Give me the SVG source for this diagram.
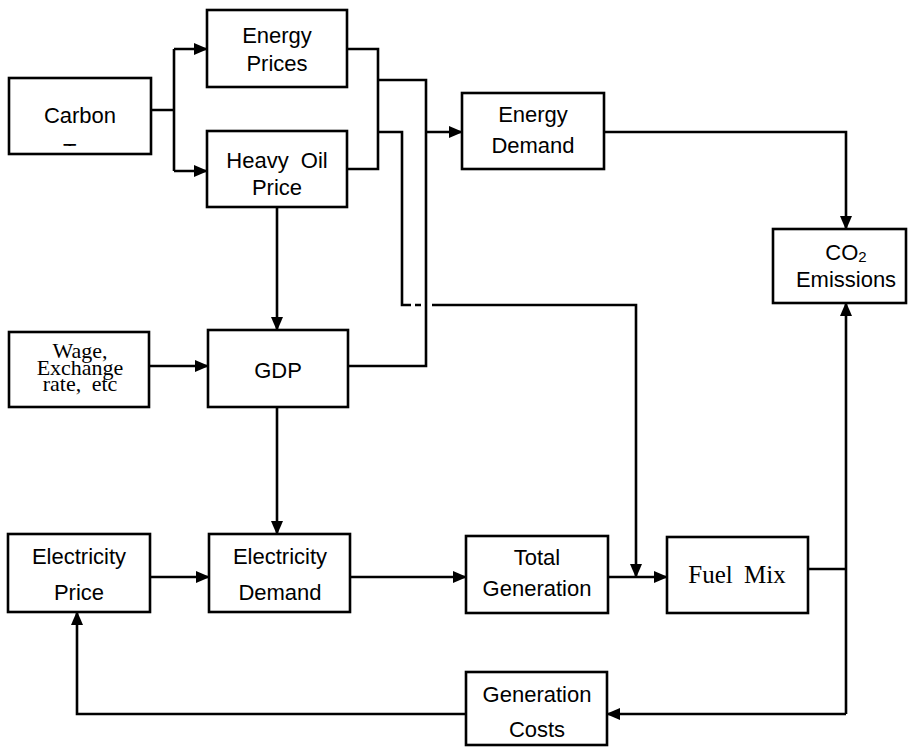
<svg xmlns="http://www.w3.org/2000/svg" width="908" height="749" viewBox="0 0 908 749">
<style>
.box{fill:#fff;stroke:#000;stroke-width:2.6}
.ln{fill:none;stroke:#000;stroke-width:2.6}
.t{font-family:"Liberation Sans",Arial,sans-serif;font-size:22px;fill:#000;text-anchor:middle}
.s{font-family:"Liberation Serif","Times New Roman",serif;fill:#000;text-anchor:middle}
</style>
<defs>
<marker id="ah" markerWidth="14" markerHeight="12" refX="13" refY="6" orient="auto" markerUnits="userSpaceOnUse">
<path d="M0,0 L14,6 L0,12 Z" fill="#000"/>
</marker>
<clipPath id="taxclip"><rect x="0" y="0" width="200" height="146"/></clipPath>
</defs>
<rect width="908" height="749" fill="#fff"/>
<g id="connectors">
<path class="ln" d="M151,110 H174 M174,49 V171"/>
<path class="ln" d="M174,49 H207" marker-end="url(#ah)"/>
<path class="ln" d="M174,171 H207" marker-end="url(#ah)"/>
<path class="ln" d="M347,49 H378 V169 H347"/>
<path class="ln" d="M378,80 H426 V366 H348"/>
<path class="ln" d="M426,132 H462" marker-end="url(#ah)"/>
<path class="ln" d="M378,132 H402 V305 H411 M415,305 H421"/>
<path class="ln" d="M432,305 H636 V577" marker-end="url(#ah)"/>
<path class="ln" d="M277,207 V330" marker-end="url(#ah)"/>
<path class="ln" d="M149,366 H208" marker-end="url(#ah)"/>
<path class="ln" d="M277,407 V534" marker-end="url(#ah)"/>
<path class="ln" d="M150,577 H209" marker-end="url(#ah)"/>
<path class="ln" d="M350,577 H466" marker-end="url(#ah)"/>
<path class="ln" d="M608,577 H667" marker-end="url(#ah)"/>
<path class="ln" d="M604,132 H846 V229" marker-end="url(#ah)"/>
<path class="ln" d="M808,569 H846"/>
<path class="ln" d="M846,714 V303" marker-end="url(#ah)"/>
<path class="ln" d="M846,714 H607" marker-end="url(#ah)"/>
<path class="ln" d="M466,714 H77 V612" marker-end="url(#ah)"/>
</g>
<g id="carbon-tax">
<rect class="box" x="9" y="78" width="142" height="76"/>
<text class="t" x="80" y="123">Carbon</text>
<text class="t" x="80" y="159" clip-path="url(#taxclip)">Tax</text>
</g>
<g id="energy-prices">
<rect class="box" x="207" y="10" width="140" height="77"/>
<text class="t" x="277" y="43">Energy</text>
<text class="t" x="277" y="71">Prices</text>
</g>
<g id="heavy-oil-price">
<rect class="box" x="207" y="131" width="140" height="76"/>
<text class="t" x="277" y="168" word-spacing="6">Heavy Oil</text>
<text class="t" x="277" y="195">Price</text>
</g>
<g id="energy-demand">
<rect class="box" x="462" y="93" width="142" height="76"/>
<text class="t" x="533" y="122">Energy</text>
<text class="t" x="533" y="153">Demand</text>
</g>
<g id="co2-emissions">
<rect class="box" x="773" y="229" width="133" height="74"/>
<text class="t" x="846" y="260">CO<tspan font-size="15" dy="2">2</tspan></text>
<text class="t" x="846" y="287">Emissions</text>
</g>
<g id="wage">
<rect class="box" x="9" y="332" width="140" height="75"/>
<text class="s" x="80" y="358" font-size="22">Wage,</text>
<text class="s" x="80" y="375" font-size="22">Exchange</text>
<text class="s" x="80" y="391" font-size="22" word-spacing="5">rate, etc</text>
</g>
<g id="gdp">
<rect class="box" x="208" y="330" width="140" height="77"/>
<text class="t" x="278" y="378">GDP</text>
</g>
<g id="electricity-price">
<rect class="box" x="8" y="534" width="142" height="78"/>
<text class="t" x="79" y="564">Electricity</text>
<text class="t" x="79" y="600">Price</text>
</g>
<g id="electricity-demand">
<rect class="box" x="209" y="534" width="141" height="78"/>
<text class="t" x="280" y="564">Electricity</text>
<text class="t" x="280" y="600">Demand</text>
</g>
<g id="total-generation">
<rect class="box" x="466" y="536" width="142" height="77"/>
<text class="t" x="537" y="565">Total</text>
<text class="t" x="537" y="596">Generation</text>
</g>
<g id="fuel-mix">
<rect class="box" x="667" y="537" width="141" height="76"/>
<text class="s" x="737" y="583" font-size="25" word-spacing="5">Fuel Mix</text>
</g>
<g id="generation-costs">
<rect class="box" x="466" y="672" width="141" height="73"/>
<text class="t" x="537" y="702">Generation</text>
<text class="t" x="537" y="737">Costs</text>
</g>
</svg>
